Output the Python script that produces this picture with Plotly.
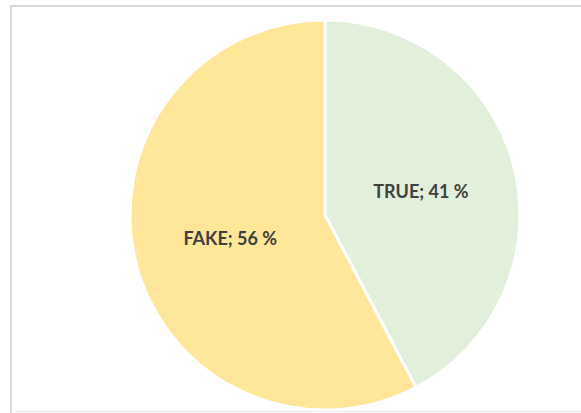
import plotly.graph_objects as go

labels = ["TRUE", "FAKE"]
values = [41, 56]
colors = ["#E2EFDA", "#FFE699"]

W, H = 581, 413

fig = go.Figure(go.Pie(
    labels=labels,
    values=values,
    sort=False,
    direction="clockwise",
    rotation=0,
    marker=dict(colors=colors, line=dict(color="white", width=3)),
    texttemplate="%{label}; %{value} %",
    textposition="inside",
    insidetextorientation="horizontal",
    textfont=dict(family="Lato", size=18, color="#404040", weight="bold"),
    domain=dict(x=[130 / W, 520 / W], y=[3 / H, 393 / H]),
    showlegend=False,
    hoverinfo="label+value",
))

fig.update_layout(
    width=W, height=H,
    margin=dict(l=0, r=0, t=0, b=0),
    paper_bgcolor="white",
    plot_bgcolor="white",
    shapes=[
        dict(type="line", xref="paper", yref="paper", x0=10.5 / W, x1=1, y0=1 - 6 / H, y1=1 - 6 / H,
             line=dict(color="#D9D9D9", width=2)),
        dict(type="line", xref="paper", yref="paper", x0=11 / W, x1=11 / W, y0=0, y1=1 - 5 / H,
             line=dict(color="#D9D9D9", width=2)),
        dict(type="line", xref="paper", yref="paper", x0=10 / W, x1=1, y0=1.5 / H, y1=1.5 / H,
             line=dict(color="#EDEDED", width=1)),
    ],
)

fig.write_html(
    "out.html",
    config={"displayModeBar": False},
    post_script="document.body.style.margin='0';document.body.style.overflow='hidden';",
)
